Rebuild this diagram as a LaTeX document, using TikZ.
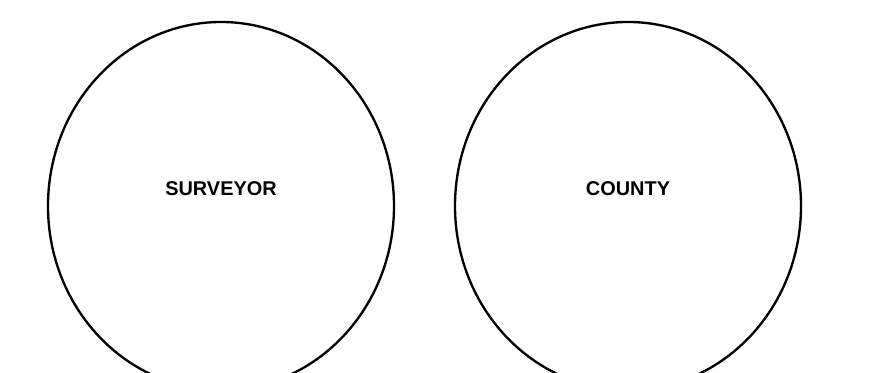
\documentclass[tikz,border=0pt]{standalone}
\usepackage{fontspec}
\setmainfont{Liberation Sans}
\usetikzlibrary{positioning,shapes.geometric}

\begin{document}
\begin{tikzpicture}[x=0.03cm, y=-0.03cm,
                    party/.style={ellipse, draw, line width=2pt,
                                  minimum width=10.38cm, minimum height=11.04cm,
                                  inner sep=0pt},
                    tag/.style={font=\fontsize{17}{19}\selectfont\bfseries}]
  \useasboundingbox (0,0) rectangle (873,373);
  \clip (0,0) rectangle (873,373);

  \node[party] (surveyor) at (221,206) {};
  \node[party] (county)   at (628,206) {};

  \node[tag] (surveyortext) at (221,189) {SURVEYOR};
  \node[tag] (countytext)   at (628,189) {COUNTY};
\end{tikzpicture}
\end{document}
